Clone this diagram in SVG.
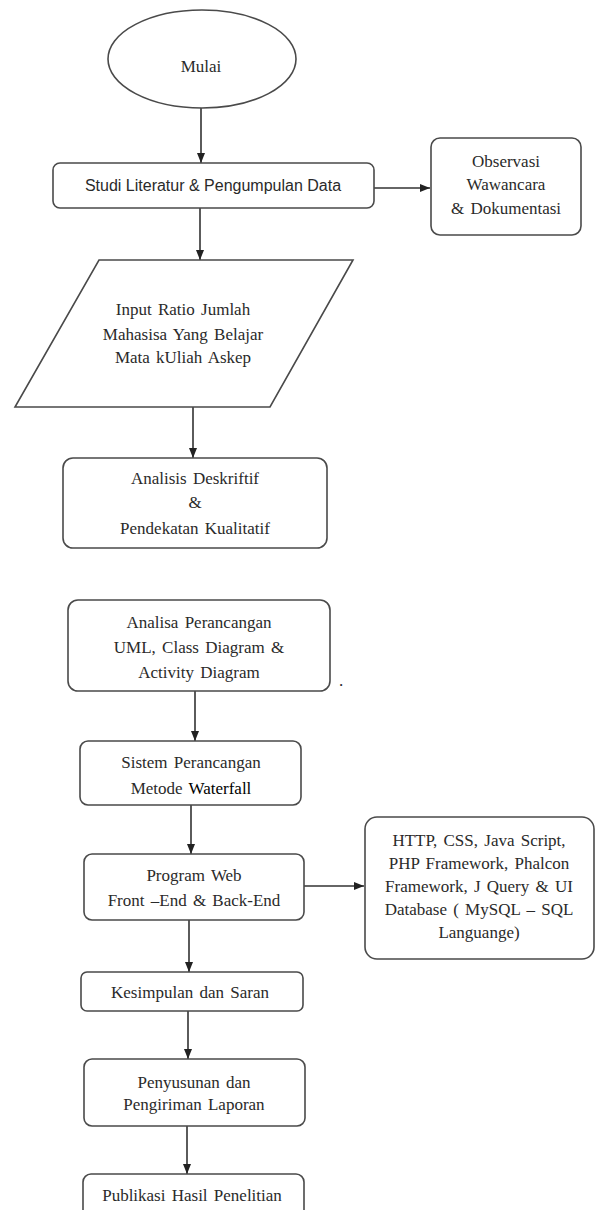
<svg xmlns="http://www.w3.org/2000/svg" width="601" height="1210" viewBox="0 0 601 1210">
<style>
.box{fill:#fff;stroke:#4a4a4a;stroke-width:1.6}
.t{font-family:"Liberation Serif","Times New Roman",serif;font-size:17px;fill:#2a2a2a;text-anchor:middle;word-spacing:2px}
.s{font-family:"Liberation Sans",Arial,sans-serif;font-size:16px;fill:#2a2a2a;text-anchor:middle}
.c{stroke:#333;stroke-width:1.6;fill:none;marker-end:url(#ah)}
</style>
<defs>
<marker id="ah" markerUnits="userSpaceOnUse" markerWidth="10" markerHeight="10" viewBox="0 0 10 10" refX="10" refY="5" orient="auto">
<path d="M0,1 L10,5 L0,9 Z" fill="#222"/>
</marker>
</defs>
<rect width="601" height="1210" fill="#fff"/>
<g id="connectors">
<line class="c" x1="201" y1="108" x2="201" y2="163"/>
<line class="c" x1="374" y1="188" x2="430" y2="188"/>
<line class="c" x1="200" y1="208" x2="200" y2="260"/>
<line class="c" x1="193" y1="407" x2="193" y2="458"/>
<line class="c" x1="195" y1="691" x2="195" y2="741"/>
<line class="c" x1="191" y1="805" x2="191" y2="854"/>
<line class="c" x1="304" y1="886" x2="364" y2="886"/>
<line class="c" x1="189" y1="920" x2="189" y2="972"/>
<line class="c" x1="188" y1="1011" x2="188" y2="1059"/>
<line class="c" x1="187" y1="1126" x2="187" y2="1174"/>
</g>
<g id="mulai">
<ellipse class="box" cx="202" cy="59" rx="94" ry="49"/>
<text class="t" x="201" y="72">Mulai</text>
</g>
<g id="studi">
<rect class="box" x="53" y="163" width="321" height="45" rx="7"/>
<text class="s" x="213" y="191">Studi Literatur  &amp; Pengumpulan Data</text>
</g>
<g id="observasi">
<rect class="box" x="431" y="138" width="150" height="97" rx="9"/>
<text class="t" x="506" y="167">Observasi</text>
<text class="t" x="506" y="190">Wawancara</text>
<text class="t" x="506" y="214">&amp; Dokumentasi</text>
</g>
<g id="input">
<polygon class="box" points="99,260 353,260 270,407 15,407"/>
<text class="t" x="183" y="315">Input Ratio Jumlah</text>
<text class="t" x="183" y="340">Mahasisa Yang Belajar</text>
<text class="t" x="183" y="363">Mata kUliah  Askep</text>
</g>
<g id="analisis">
<rect class="box" x="63" y="458" width="264" height="90" rx="10"/>
<text class="t" x="195" y="484">Analisis Deskriftif</text>
<text class="t" x="195" y="508">&amp;</text>
<text class="t" x="195" y="534">Pendekatan Kualitatif</text>
</g>
<g id="analisa">
<rect class="box" x="68" y="600" width="262" height="91" rx="10"/>
<text class="t" x="199" y="628">Analisa Perancangan</text>
<text class="t" x="199" y="653">UML, Class Diagram &amp;</text>
<text class="t" x="199" y="678">Activity Diagram</text>
<text class="t" x="341" y="686">.</text>
</g>
<g id="sistem">
<rect class="box" x="80" y="741" width="221" height="64" rx="8"/>
<text class="t" x="191" y="768">Sistem Perancangan</text>
<text class="t" x="191" y="794">Metode <tspan fill="#000">Waterfall</tspan></text>
</g>
<g id="program">
<rect class="box" x="84" y="854" width="220" height="66" rx="8"/>
<text class="t" x="194" y="881">Program Web</text>
<text class="t" x="194" y="906">Front –End &amp; Back-End</text>
</g>
<g id="http">
<rect class="box" x="365" y="817" width="229" height="142" rx="12"/>
<text class="t" x="479" y="846">HTTP, CSS, Java Script,</text>
<text class="t" x="479" y="869">PHP Framework, Phalcon</text>
<text class="t" x="479" y="892">Framework, J Query &amp; UI</text>
<text class="t" x="479" y="915">Database ( MySQL – SQL</text>
<text class="t" x="479" y="938">Languange)</text>
</g>
<g id="kesimpulan">
<rect class="box" x="81" y="972" width="222" height="39" rx="6"/>
<text class="t" x="190" y="998">Kesimpulan dan Saran</text>
</g>
<g id="penyusunan">
<rect class="box" x="84" y="1059" width="221" height="67" rx="8"/>
<text class="t" x="194" y="1088">Penyusunan dan</text>
<text class="t" x="194" y="1110">Pengiriman Laporan</text>
</g>
<g id="publikasi">
<rect class="box" x="83" y="1174" width="221" height="60" rx="8"/>
<text class="t" x="192" y="1201">Publikasi Hasil Penelitian</text>
</g>
</svg>
